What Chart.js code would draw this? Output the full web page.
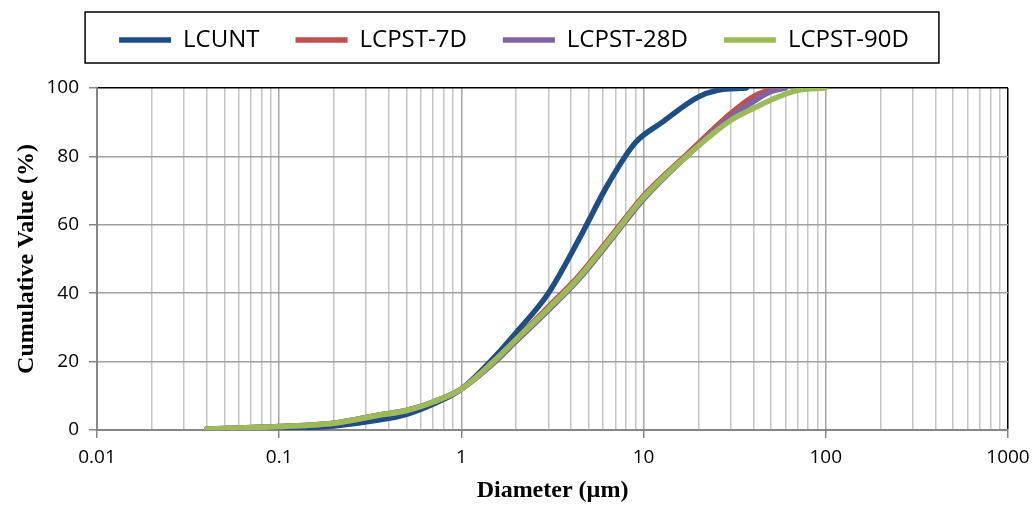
<!DOCTYPE html>
<html>
<head>
<meta charset="utf-8">
<script src="https://cdn.jsdelivr.net/npm/chart.js@4"></script>
<style>
  html, body { margin: 0; padding: 0; background: #fff; }
  #wrap { width: 1032px; height: 505px; }
</style>
</head>
<body>
<div id="wrap"><canvas id="psd"></canvas></div>
<script>
// particle size distribution
const seriesNames = ["LCUNT", "LCPST-7D", "LCPST-28D", "LCPST-90D"];
const seriesColors = ["#1F4E84", "#C0504D", "#8064A2", "#9BBB59"];

const dUnt = [0.04, 0.1, 0.2, 0.35, 0.5, 0.7, 1, 1.5, 2, 3, 4.4, 6.4, 9, 12.5, 20, 25.7, 36.6];
const vUnt = [0, 0.4, 1.2, 2.9, 4.6, 7.6, 12, 21, 28.5, 40, 55.6, 72, 84, 89.8, 97.4, 99.4, 100];

const d7 = [0.04, 0.1, 0.2, 0.35, 0.5, 0.7, 1, 1.5, 2, 3, 4.4, 6.6, 10, 17.6, 30, 40, 52];
const v7 = [0.3, 1, 2, 4.3, 5.7, 8.2, 12, 20, 26.5, 36, 45, 56.5, 68.5, 81, 92.5, 97.5, 100];

const d28 = [0.04, 0.1, 0.2, 0.35, 0.5, 0.7, 1, 1.5, 2, 3, 4.4, 6.6, 10, 17.6, 30, 40, 50, 60];
const v28 = [0.3, 1, 2, 4.3, 5.7, 8.2, 12, 19.5, 26, 35, 44, 55.5, 67.5, 80.5, 91.5, 96, 99, 100];

const d90 = [0.04, 0.1, 0.2, 0.35, 0.5, 0.7, 1, 1.5, 2, 3, 4.4, 6.6, 10, 17.6, 30, 40, 50, 70, 99];
const v90 = [0.3, 1, 2, 4.3, 5.7, 8.2, 12, 20, 26.5, 35.5, 44.5, 56, 68, 80.5, 90.5, 94, 96.5, 99.3, 100];

const xTicks = [0.01, 0.1, 1, 10, 100, 1000];
const yTicks = [0, 20, 40, 60, 80, 100];

function pts(xs, ys) {
    return xs.map((x, i) => ({ x: x, y: ys[i] }));
}

function isDecade(v) {
    const l = Math.log10(v);
    return Math.abs(l - Math.round(l)) < 1e-9;
}

const allD = [dUnt, d7, d28, d90];
const allV = [vUnt, v7, v28, v90];

const datasets = seriesNames.map((name, i) => ({
    label: name,
    data: pts(allD[i], allV[i]),
    borderColor: seriesColors[i],
    backgroundColor: seriesColors[i],
    borderWidth: 5.5,
    borderCapStyle: "round",
    pointRadius: 0,
    cubicInterpolationMode: "monotone",
    order: 3 - i
}));

// legend is taller than Chart.js makes it (plot starts at y = 88), sits a bit right, and has a frame
const legendBox = {
    id: "legendBox",
    beforeLayout(chart) {
        const lg = chart.legend;
        if (lg && !lg._patched) {
            const fit = lg.fit;
            lg.fit = function () {
                fit.call(this);
                this.height = 96;
            };
            lg._patched = true;
        }
    },
    afterLayout(chart) {
        const lg = chart.legend;
        if (lg) { lg.left += 10; lg.right += 10; }
    },
    afterDraw(chart) {
        const lg = chart.legend;
        if (!lg || !lg.legendHitBoxes.length) return;
        const hb = lg.legendHitBoxes;
        const first = hb[0], last = hb[hb.length - 1];
        const ctx = chart.ctx;
        ctx.save();
        ctx.strokeStyle = "#000";
        ctx.lineWidth = 1.5;
        const l = first.left - 34, r = last.left + last.width + 30;
        ctx.strokeRect(l, 12, r - l, 51);
        ctx.restore();
    }
};

new Chart(document.getElementById("psd"), {
    type: "line",
    data: { datasets: datasets },
    plugins: [legendBox],
    options: {
        responsive: true,
        maintainAspectRatio: false,
        animation: false,
        layout: { padding: { left: 0, right: 24, top: -8, bottom: 0 } },
        plugins: {
            tooltip: { enabled: false },
            legend: {
                position: "top",
                labels: {
                    usePointStyle: true,
                    pointStyle: "line",
                    pointStyleWidth: 52,
                    padding: 36,
                    color: "#000",
                    font: { family: "Open Sans", size: 24 },
                    sort: (a, b) => a.datasetIndex - b.datasetIndex
                }
            }
        },
        scales: {
            x: {
                type: "logarithmic",
                min: 0.01,
                max: 1000,
                afterBuildTicks(s) {
                    const t = [];
                    for (let k = 0; k < xTicks.length - 1; k++) {
                        for (let m = 1; m <= 9; m++) t.push({ value: xTicks[k] * m });
                    }
                    t.push({ value: xTicks[xTicks.length - 1] });
                    s.ticks = t;
                },
                afterFit(s) {
                    s.height = 75;
                    s.paddingLeft = 0;
                    s.paddingRight = 0;
                },
                ticks: {
                    autoSkip: false,
                    maxRotation: 0,
                    padding: 8,
                    color: "#000",
                    font: { family: "Open Sans", size: 19 },
                    callback: v => isDecade(v) ? String(v) : ""
                },
                grid: {
                    tickLength: 8,
                    lineWidth: 1.5,
                    color: c => {
                        const v = c.tick ? c.tick.value : 0;
                        if (v >= 1000) return "#000";
                        return isDecade(v) ? "#a6a6a6" : "#c4c4c4";
                    },
                    tickColor: c => (c.tick && isDecade(c.tick.value)) ? "#868686" : "rgba(0,0,0,0)"
                },
                border: { color: "#868686", width: 2 },
                title: {
                    display: true,
                    text: "Diameter (µm)",
                    color: "#000",
                    font: { family: "Liberation Serif", size: 24, weight: "bold" },
                    padding: { top: 0, bottom: 0 }
                }
            },
            y: {
                min: 0,
                max: 100,
                afterBuildTicks(s) { s.ticks = yTicks.map(v => ({ value: v })); },
                afterFit(s) { s.width = 97; },
                ticks: {
                    padding: 10,
                    color: "#000",
                    font: { family: "Open Sans", size: 19 }
                },
                grid: {
                    tickLength: 8,
                    lineWidth: 1.5,
                    color: c => (c.tick && c.tick.value === 100) ? "#000" : "#a0a0a0",
                    tickColor: "#868686"
                },
                border: { color: "#868686", width: 2 },
                title: {
                    display: true,
                    text: "Cumulative Value (%)",
                    color: "#000",
                    font: { family: "Liberation Serif", size: 24, weight: "bold" },
                    padding: { top: 12, bottom: 0 }
                }
            }
        }
    }
});
</script>
</body>
</html>
